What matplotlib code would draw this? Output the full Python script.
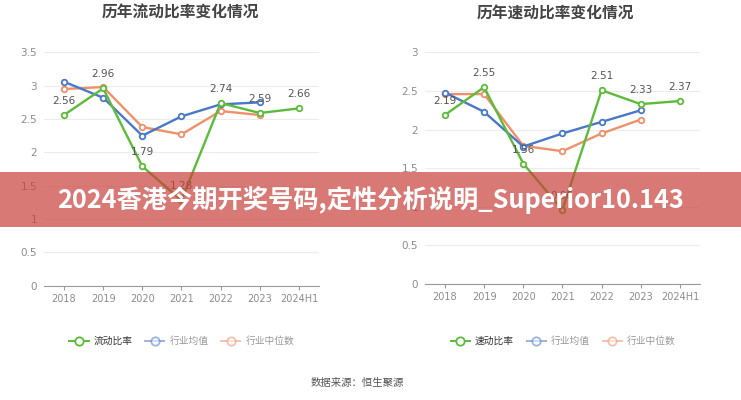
"""Current and quick ratio history, two panels with an overlay banner."""

import matplotlib

matplotlib.use("Agg")
import matplotlib.pyplot as plt
from matplotlib.lines import Line2D
from matplotlib.patches import Rectangle

plt.rcParams["font.family"] = ["Noto Sans CJK SC", "DejaVu Sans"]

years = ["2018", "2019", "2020", "2021", "2022", "2023", "2024H1"]

current_ratio = [2.56, 2.96, 1.79, 1.28, 2.74, 2.59, 2.66]
current_mean = [3.06, 2.82, 2.25, 2.54, 2.72, 2.75]
current_median = [2.95, 2.98, 2.38, 2.27, 2.62, 2.56]

quick_ratio = [2.19, 2.55, 1.56, 0.96, 2.51, 2.33, 2.37]
quick_mean = [2.48, 2.23, 1.78, 1.95, 2.10, 2.25]
quick_median = [2.46, 2.46, 1.79, 1.72, 1.95, 2.13]

left_title = "历年流动比率变化情况"
right_title = "历年速动比率变化情况"
left_names = ["流动比率", "行业均值", "行业中位数"]
right_names = ["速动比率", "行业均值", "行业中位数"]
left_yticks = [0, 0.5, 1, 1.5, 2, 2.5, 3, 3.5]
right_yticks = [0, 0.5, 1, 1.5, 2, 2.5, 3]

GREEN = "#5dbb3a"
BLUE = "#4a78c8"
ORANGE = "#ee916a"
GRID = "#ececec"
TICK = "#8c8c8c"


def draw_panel(ax, main, mean, median, yticks):
    x = range(len(years))
    style = dict(lw=1.7, marker="o", ms=4, mfc="white", mew=1.3)
    ax.plot(range(len(median)), median, color=ORANGE, zorder=3, **style)
    ax.plot(range(len(mean)), mean, color=BLUE, zorder=4, **style)
    ax.plot(x, main, color=GREEN, zorder=5, **style)
    for i, v in enumerate(main):
        ax.annotate(f"{v:.2f}", (i, v), xytext=(0, 10), textcoords="offset points",
                    ha="center", va="center", fontsize=7.5, color="#555555",
                    family=["DejaVu Sans"], zorder=6)
    ax.set_xlim(-0.51, len(years) - 0.49)
    ax.set_ylim(yticks[0], yticks[-1])
    ax.set_yticks(yticks)
    ax.set_yticklabels([f"{t:g}" for t in yticks])
    ax.set_xticks(list(x))
    ax.set_xticklabels(years)
    ax.grid(axis="y", color=GRID, lw=0.8)
    ax.set_axisbelow(True)
    for side in ("top", "right", "left"):
        ax.spines[side].set_visible(False)
    ax.spines["bottom"].set_color("#9a9a9a")
    ax.tick_params(axis="y", length=0, labelsize=7.5, labelcolor=TICK, pad=5)
    ax.tick_params(axis="x", length=3, color="#9a9a9a", labelsize=7,
                   labelcolor=TICK, pad=3)
    for lab in ax.get_xticklabels() + ax.get_yticklabels():
        lab.set_family(["DejaVu Sans"])


def legend_handles(alpha_rest=0.55):
    out = []
    for i, c in enumerate([GREEN, BLUE, ORANGE]):
        out.append(Line2D([], [], color=c, lw=1.4, marker="o", ms=6, mfc="white",
                          mew=1.3, alpha=1.0 if i == 0 else alpha_rest))
    return out


fig = plt.figure(figsize=(7.41, 4), dpi=100)

ax1 = fig.add_axes([0.0594, 0.286, 0.371, 0.583])
draw_panel(ax1, current_ratio, current_mean, current_median, left_yticks)
ax2 = fig.add_axes([0.5735, 0.29, 0.371, 0.579])
draw_panel(ax2, quick_ratio, quick_mean, quick_median, right_yticks)

fig.text(0.243, 0.968, left_title, ha="center", va="center", fontsize=11.3,
         fontweight="bold", color="#444444")
fig.text(0.75, 0.968, right_title, ha="center", va="center", fontsize=11.3,
         fontweight="bold", color="#444444")

for names, cx in ((left_names, 0.245), (right_names, 0.76)):
    leg = fig.legend(legend_handles(), names, loc="center", bbox_to_anchor=(cx, 0.147),
                     ncol=3, frameon=False, fontsize=7, handlelength=2.0,
                     handletextpad=0.5, columnspacing=1.3)
    for i, t in enumerate(leg.get_texts()):
        t.set_color("#333333" if i == 0 else "#999999")

fig.text(0.482, 0.042, "数据来源：恒生聚源", ha="center", va="center",
         fontsize=7.5, color="#555555")

fig.add_artist(Rectangle((0, 1 - 227 / 400), 1, 55 / 400, transform=fig.transFigure,
                         facecolor="#c8413a", alpha=0.7, edgecolor="none", zorder=10))
fig.text(0.5, 1 - 200 / 400, "2024香港今期开奖号码,定性分析说明_Superior10.143",
         ha="center", va="center", fontsize=18.2, fontweight="bold", color="white",
         zorder=11)

fig.savefig("out.png", dpi=100)
